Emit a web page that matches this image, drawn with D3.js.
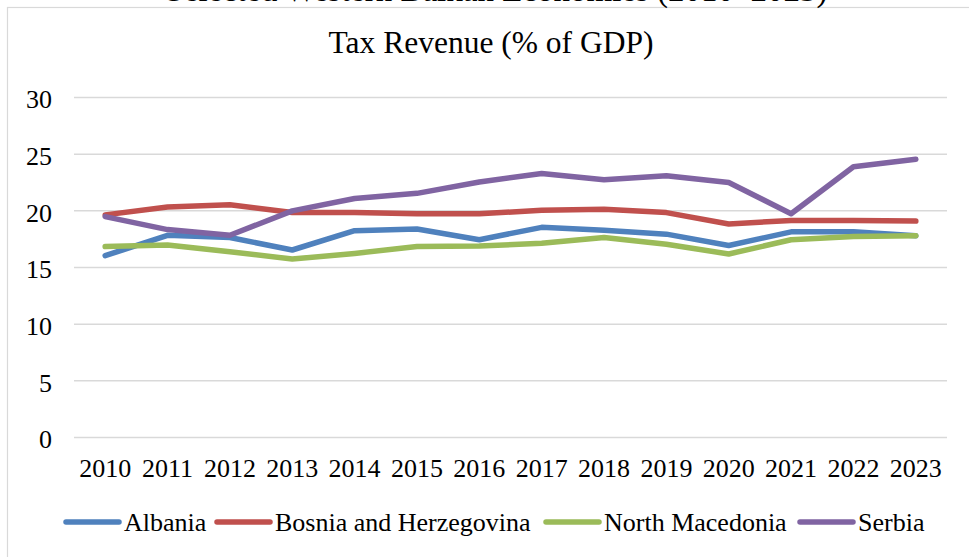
<!DOCTYPE html>
<html>
<head>
<meta charset="utf-8">
<script src="https://cdn.jsdelivr.net/npm/d3@7"></script>
<style>
  html, body { margin: 0; padding: 0; background: #fff; }
  svg { display: block; }
  svg text { font-family: "Liberation Serif", "Times New Roman", serif; fill: #000; }
</style>
</head>
<body>
<svg id="chart" width="969" height="557"></svg>
<script>
// Tax revenue as a share of GDP, 2010–2023
const years = ["2010","2011","2012","2013","2014","2015","2016","2017","2018","2019","2020","2021","2022","2023"];
const albania     = [16.0, 17.8, 17.6, 16.5, 18.2, 18.35, 17.4, 18.5, 18.25, 17.9, 16.9, 18.1, 18.1, 17.75];
const bosnia      = [19.6, 20.3, 20.5, 19.8, 19.8, 19.7, 19.7, 20.0, 20.1, 19.8, 18.8, 19.1, 19.1, 19.05];
const macedonia   = [16.8, 16.95, 16.35, 15.7, 16.2, 16.8, 16.85, 17.1, 17.6, 17.0, 16.15, 17.4, 17.7, 17.75];
const serbia      = [19.45, 18.3, 17.8, 19.95, 21.05, 21.5, 22.5, 23.25, 22.7, 23.05, 22.45, 19.7, 23.85, 24.5];
const seriesNames = ["Albania", "Bosnia and Herzegovina", "North Macedonia", "Serbia"];
const seriesColors = ["#4F81BD", "#C0504D", "#9BBB59", "#8064A2"];
const yTicks = [0, 5, 10, 15, 20, 25, 30];

const series = [albania, bosnia, macedonia, serbia].map((vals, i) => ({
  name: seriesNames[i], color: seriesColors[i], values: vals
}));

const FONT = "Liberation Serif, Times New Roman, serif";
const svg = d3.select("#chart");
const W = 969, H = 557;
const plot = { left: 74, right: 947, top: 97, bottom: 437 };

// Outer chart frame
svg.append("rect")
  .attr("x", 7.5).attr("y", 7.5)
  .attr("width", W + 10).attr("height", H + 10)
  .attr("fill", "#fff").attr("stroke", "#d9d9d9").attr("stroke-width", 1.2);

// Heading above the frame (runs off the top edge)
svg.append("text")
  .attr("x", 496.5).attr("y", 1)
  .attr("text-anchor", "middle")
  .attr("font-size", 33)
  .text("Selected Western Balkan Economies (2010–2023)");

// Chart title
svg.append("text")
  .attr("x", 491).attr("y", 53)
  .attr("text-anchor", "middle")
  .attr("font-size", 31.5)
  .text("Tax Revenue (% of GDP)");

const x = d3.scaleBand().domain(years).range([plot.left, plot.right]);
const y = d3.scaleLinear().domain([0, 30]).range([plot.bottom, plot.top]);

// Horizontal gridlines + y labels
const yAxis = d3.axisLeft(y).tickValues(yTicks)
  .tickSize(-(plot.right - plot.left)).tickPadding(22).tickFormat(d3.format("d"));
const gy = svg.append("g").attr("transform", `translate(${plot.left},0)`).call(yAxis)
  .attr("font-family", FONT);
gy.select(".domain").remove();
gy.selectAll(".tick line").attr("stroke", "#d9d9d9").attr("stroke-width", 1.5);
gy.selectAll(".tick text").attr("font-size", 26).attr("dy", "0.42em");

// Category labels
const xAxis = d3.axisBottom(x).tickSize(0).tickPadding(22);
const gx = svg.append("g").attr("transform", `translate(0,${plot.bottom})`).call(xAxis)
  .attr("font-family", FONT);
gx.select(".domain").remove();
gx.selectAll(".tick text").attr("font-size", 26).attr("dy", "0.71em");

// Series lines
const line = d3.line()
  .x((d, i) => x(years[i]) + x.bandwidth() / 2)
  .y(d => y(d));

svg.append("g").selectAll("path")
  .data(series)
  .join("path")
  .attr("d", d => line(d.values))
  .attr("fill", "none")
  .attr("stroke", d => d.color)
  .attr("stroke-width", 5.5)
  .attr("stroke-linejoin", "round")
  .attr("stroke-linecap", "round");

// Legend
const legendY = 522;
const legendX = [65, 216, 545, 799];
const leg = svg.append("g").selectAll("g")
  .data(series)
  .join("g")
  .attr("transform", (d, i) => `translate(${legendX[i]},${legendY})`);
leg.append("line")
  .attr("x1", 1).attr("x2", 54).attr("y1", 0).attr("y2", 0)
  .attr("stroke", d => d.color).attr("stroke-width", 5.5).attr("stroke-linecap", "round");
leg.append("text")
  .attr("x", 59).attr("y", 9)
  .attr("font-size", 26)
  .text(d => d.name);
</script>
</body>
</html>
